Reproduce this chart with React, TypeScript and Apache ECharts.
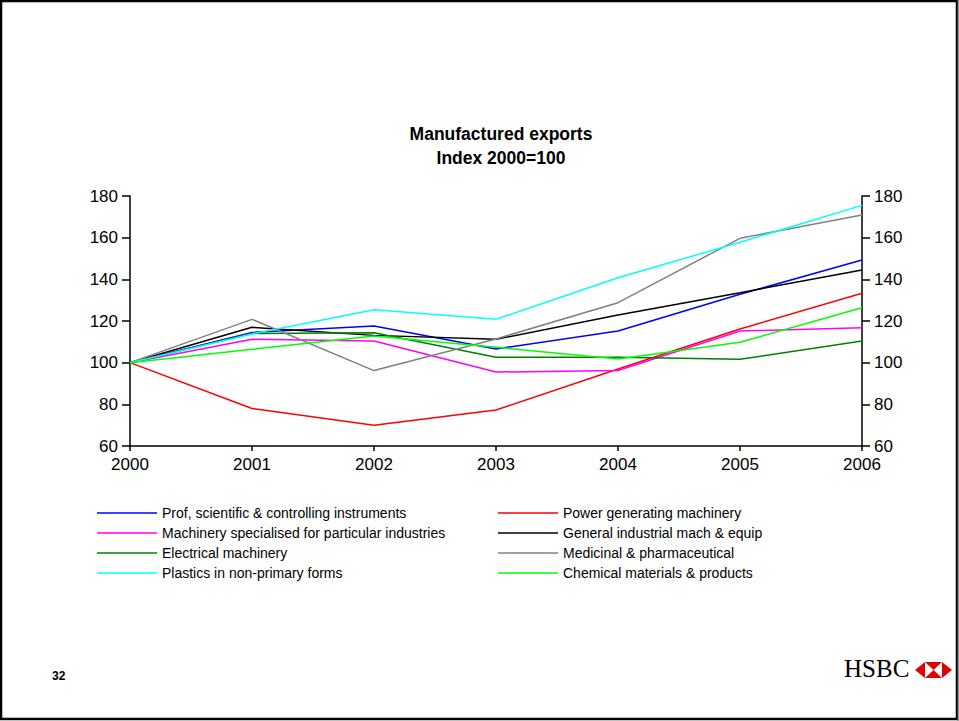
import React, { useEffect, useRef } from "react";
import * as echarts from "echarts";

const years = ["2000", "2001", "2002", "2003", "2004", "2005", "2006"];
const profInstruments = [100, 114.5, 117.6, 106.6, 115.2, 132.8, 149.3];
const powerMachinery = [100, 78, 70, 77.3, 97, 116.2, 133.3];
const specialisedMachinery = [100, 111.2, 110.4, 95.5, 96.2, 115.2, 116.8];
const generalIndustrial = [100, 117, 113.1, 111.2, 122.9, 133.6, 144.5];
const electricalMachinery = [100, 114, 114.4, 102.6, 102.6, 101.6, 110.4];
const medicinalPharma = [100, 120.8, 96.2, 111.4, 128.8, 159.7, 170.9];
const plasticsNonPrimary = [100, 113.8, 125.4, 120.8, 140.8, 157.8, 175.5];
const chemicalMaterials = [100, 106.4, 112.8, 107.4, 101.8, 109.8, 126.4];

const seriesDefs = [
  { name: "Prof, scientific & controlling instruments", data: profInstruments, color: "#0000FF" },
  { name: "Power generating machinery", data: powerMachinery, color: "#FF0000" },
  { name: "Machinery specialised for particular industries", data: specialisedMachinery, color: "#FF00FF" },
  { name: "General industrial mach & equip", data: generalIndustrial, color: "#000000" },
  { name: "Electrical machinery", data: electricalMachinery, color: "#008000" },
  { name: "Medicinal & pharmaceutical", data: medicinalPharma, color: "#808080" },
  { name: "Plastics in non-primary forms", data: plasticsNonPrimary, color: "#00FFFF" },
  { name: "Chemical materials & products", data: chemicalMaterials, color: "#00FF00" },
];

const FONT = "'Liberation Sans', Arial, sans-serif";

export default function App() {
  const ref = useRef<HTMLDivElement>(null);
  useEffect(() => {
    if (!ref.current) return;
    const chart = echarts.init(ref.current, null, { renderer: "svg" });
    const axisY = (pos: "left" | "right") => ({
      type: "value",
      position: pos,
      min: 60,
      max: 180,
      interval: 20,
      axisLine: { show: true, lineStyle: { color: "#000", width: 1.5 } },
      axisTick: { show: true, length: 8, lineStyle: { color: "#000", width: 1.5 } },
      axisLabel: { margin: 12, color: "#000", fontSize: 17, fontFamily: FONT },
      splitLine: { show: false },
    });
    const col1 = seriesDefs.filter((_, i) => i % 2 === 0).map((s) => s.name);
    const col2 = seriesDefs.filter((_, i) => i % 2 === 1).map((s) => s.name);
    const legendBase = {
      orient: "vertical",
      top: 506,
      icon: "rect",
      itemWidth: 60,
      itemHeight: 1.5,
      itemGap: 6,
      padding: 0,
      selectedMode: false,
      textStyle: { fontSize: 14, color: "#000", fontFamily: FONT, lineHeight: 14 },
    };
    chart.setOption({
      animation: false,
      backgroundColor: "#fff",
      title: {
        text: "Manufactured exports\nIndex 2000=100",
        left: 496,
        top: 117,
        textAlign: "center",
        textStyle: { fontSize: 17.5, fontWeight: "bold", color: "#000", fontFamily: FONT, lineHeight: 24 },
      },
      grid: { left: 130, right: 97, top: 196, bottom: 275, containLabel: false },
      xAxis: {
        type: "category",
        data: years,
        boundaryGap: false,
        axisLine: { show: true, onZero: false, lineStyle: { color: "#000", width: 1.5 } },
        axisTick: { show: true, length: 5, alignWithLabel: true, lineStyle: { color: "#000", width: 1.5 } },
        axisLabel: { margin: 10, color: "#000", fontSize: 17, fontFamily: FONT, interval: 0 },
      },
      yAxis: [axisY("left"), axisY("right")],
      legend: [
        { ...legendBase, left: 97, data: col1 },
        { ...legendBase, left: 498, data: col2 },
      ],
      series: seriesDefs.map((s) => ({
        name: s.name,
        type: "line",
        data: s.data,
        symbol: "none",
        color: s.color,
        lineStyle: { color: s.color, width: 1.5 },
        yAxisIndex: 0,
      })),
      graphic: [
        {
          type: "rect",
          shape: { x: 1, y: 1, width: 956, height: 718 },
          style: { fill: "none", stroke: "#000", lineWidth: 2.5 },
          silent: true,
        },
        {
          type: "line",
          shape: { x1: 958, y1: 0, x2: 958, y2: 721 },
          style: { stroke: "#666", lineWidth: 1 },
        },
        {
          type: "text",
          left: 52,
          top: 670,
          style: { text: "32", fontSize: 12, fontWeight: "bold", fill: "#000", fontFamily: FONT },
        },
        {
          type: "text",
          left: 844,
          top: 656,
          style: { text: "HSBC", fontSize: 25, fill: "#000", fontFamily: "'Liberation Serif', 'Times New Roman', serif" },
        },
        {
          type: "polygon",
          shape: { points: [[915, 670], [925, 662], [942, 662], [952, 670], [942, 678], [925, 678]] },
          style: { fill: "#E00000" },
        },
        {
          type: "polygon",
          shape: { points: [[925, 662], [933.5, 670], [925, 678]] },
          style: { fill: "#fff" },
        },
        {
          type: "polygon",
          shape: { points: [[942, 662], [933.5, 670], [942, 678]] },
          style: { fill: "#fff" },
        },
      ],
    });
    return () => chart.dispose();
  }, []);
  return (
    <div
      ref={ref}
      style={{ position: "absolute", left: 0, top: 0, width: 959, height: 721 }}
    />
  );
}
